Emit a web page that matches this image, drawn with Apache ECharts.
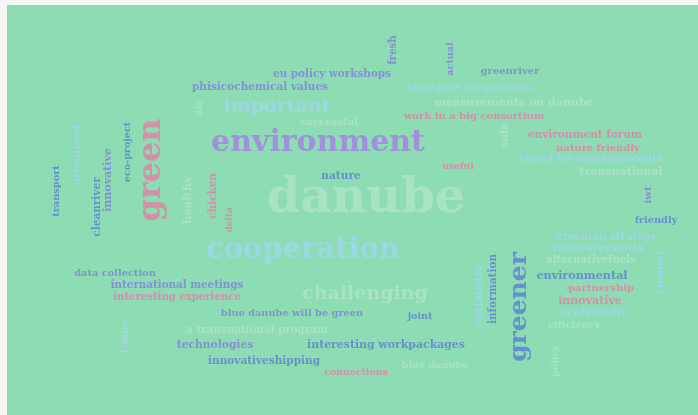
<!DOCTYPE html>
<html>
<head>
<meta charset="utf-8">
<script src="https://cdn.jsdelivr.net/npm/echarts@6/dist/echarts.min.js"></script>
<style>
html,body{margin:0;padding:0;background:#f4f6f5;}
#bg{position:absolute;left:7px;top:5px;width:691px;height:410px;background:#8ddcb3;}
#main{position:absolute;left:0;top:0;width:698px;height:415px;}
</style>
</head>
<body>
<div id="bg"></div>
<div id="main"></div>
<script>
// Words of the cloud
const words = [
  'danube','environment','cooperation','important','challenging','green','greener',
  'phisicochemical values','eu policy workshops','successful','transport cooperation','greenriver',
  'measurements on danube','work in a big consortium','environment forum','nature friendly',
  'travel for measurements','transnational','useful','nature','friendly','greening strategy',
  'measurements','alternativefuels','environmental','partnership','innovative','ecofriendly',
  'efficiency','data collection','international meetings','interesting experience',
  'blue danube will be green','joint','a transnational program','technologies',
  'interesting workpackages','innovativeshipping','blue danube','connections',
  'transport','organised','cleanriver','innovative','eco-project','healthy','chicken','delta',
  'air','fresh','actual','safe','iwt','cleaner','optimistic','information','policy','todos'
];
// Word weight (drawn as font size)
const weights = [
  48,30,29,19,19,32,25,
  10.5,10.4,10,10.2,10,
  11,10,10.5,9.9,
  10.4,11,9,10.6,9.8,10.2,
  11,10.2,11.2,10,11,10.6,
  9.9,9.8,10.3,10.1,
  9.8,9.5,10.3,10.7,
  10.9,10.5,9.6,9.4,
  9.8,11,10.5,11,9.6,11.5,10.5,9,
  10,10.3,9.6,11,10,10.8,10.9,10.5,9.6,10.6
];
// Cloud layout: centre of each word (layout units) and orientation
const wordX = [
  366,318,303,277,365,152,519,
  260,332,329,470,510,
  514,474,585,598,
  591,621,458,341,656,606,
  598,591,582,601,590,594,
  574,115,177,177,
  292,420,257,215,
  386,264,435,356,
  56,77,97,108,127,188,213,230,
  199,393,450,505,648,660,479,493,555,125
];
const wordY = [
  200,143,250,107,294,170,307,
  87,74,122,88,71,
  103,116,135,148,
  159,172,167,176,220,237,
  248,260,276,288,301,313,
  325,273,285,297,
  313,317,330,345,
  345,361,365,373,
  191,155,207,180,152,200,196,220,
  108,50,59,135,195,272,296,289,361,337
];
const vertical = [
  0,0,0,0,0,1,1,
  0,0,0,0,0,
  0,0,0,0,
  0,0,0,0,0,0,
  0,0,0,0,0,0,
  0,0,0,0,
  0,0,0,0,
  0,0,0,0,
  1,1,1,1,1,1,1,1,
  1,1,1,1,1,1,1,1,1,1
];
const tone = [
  'pale','purple','light','light','pale','pink','blue',
  'violet','violet','pale','light','violet',
  'pale','pink','pink','pink',
  'light','pale','pink','blue','blue','light',
  'light','pale','blue','pink','pink','light',
  'pale','violet','violet','pink',
  'violet','blue','pale','violet',
  'blue','blue','pale','pink',
  'blue','light','blue','violet','blue','pale','pink','pink',
  'pale','violet','violet','pale','violet','light','light','blue','pale','light'
];
const palette = {
  pale:'#b0e5c9', purple:'#a67ee6', light:'#a0d6f0', pink:'#e27ea6',
  blue:'#5b7fd4', violet:'#7f80dc'
};

const data = words.map((w, i) => ({
  value: [wordX[i], wordY[i]],
  name: w,
  label: {
    fontSize: weights[i],
    color: palette[tone[i]],
    rotate: vertical[i] ? 90 : 0
  }
}));

const chart = echarts.init(document.getElementById('main'));
chart.setOption({
  animation: false,
  backgroundColor: 'transparent',
  grid: {left: 0, right: 0, top: 0, bottom: 0},
  xAxis: {type: 'value', min: 0, max: 698, show: false},
  yAxis: {type: 'value', min: 0, max: 415, inverse: true, show: false},
  series: [{
    type: 'scatter',
    symbolSize: 0,
    data: data,
    label: {
      show: true,
      position: 'inside',
      align: 'center',
      verticalAlign: 'middle',
      fontFamily: 'DejaVu Serif',
      fontWeight: 'bold',
      formatter: p => p.name
    },
    emphasis: {disabled: true}
  }]
});
</script>
</body>
</html>
